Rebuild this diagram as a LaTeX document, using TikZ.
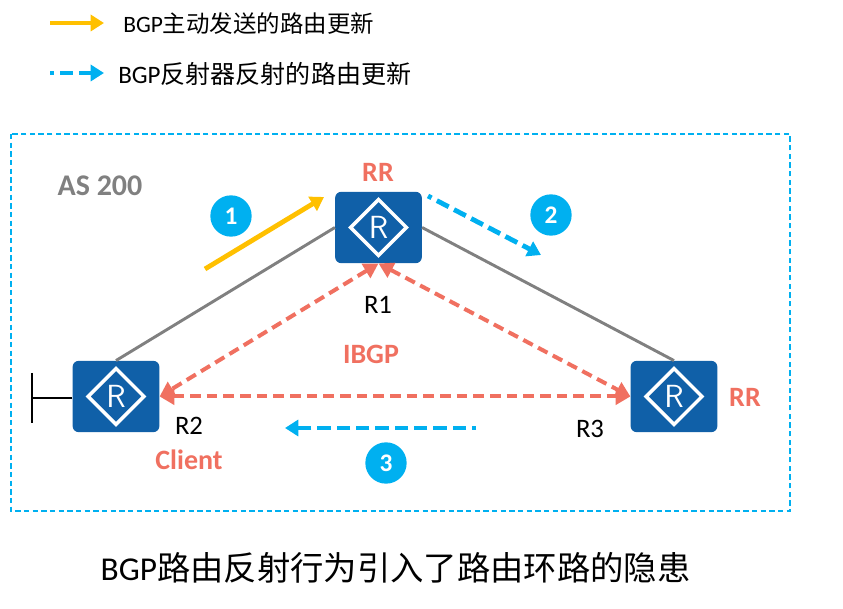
\documentclass[tikz,border=0pt]{standalone}
\usepackage{fontspec}
\setmainfont{Carlito}
\newfontfamily\cjk{Noto Sans CJK SC}
\usetikzlibrary{arrows.meta,shapes.geometric}
\definecolor{coral}{HTML}{F07060}
\definecolor{skyblue}{HTML}{00B0F0}
\definecolor{amber}{HTML}{FFC000}
\definecolor{routerblue}{HTML}{1060A8}
\definecolor{linkgrey}{HTML}{808080}
\tikzset{
  router/.style={draw=none, fill=routerblue, rounded corners=4.5pt, minimum width=65pt, minimum height=53.5pt, inner sep=0pt},
  rmark/.style={diamond, draw=white, line width=2.6pt, minimum width=43pt, minimum height=43pt, inner sep=0pt, text=white, font=\fontsize{24}{24}\sffamily},
  link/.style={draw=linkgrey, line width=2.2pt},
  ibgp/.style={draw=coral, line width=3pt, dash pattern=on 8pt off 4.5pt, {Triangle[length=11pt,width=12pt]}-{Triangle[length=11pt,width=12pt]}},
  update/.style={draw=amber, line width=3.6pt, -{Triangle[length=10pt,width=12pt]}},
  reflect/.style={draw=skyblue, line width=3.6pt, dash pattern=on 10pt off 4.5pt, dash phase=7pt, -{Triangle[length=10pt,width=12pt]}},
  badge/.style={circle, fill=skyblue, text=white, minimum size=31pt, inner sep=0pt, font=\fontsize{19}{19}\bfseries},
  redlabel/.style={text=coral, font=\fontsize{21}{24}\bfseries},
  plainlabel/.style={text=black, font=\fontsize{20}{24}\selectfont},
}
\begin{document}
\begin{tikzpicture}[x=0.75pt, y=-0.75pt]
\useasboundingbox (0,0) rectangle (843,609);
% AS frame
\draw[skyblue, line width=1.1pt, dash pattern=on 4pt off 2.5pt] (11,134) rectangle (790,511);

% routers
\node[router] (r1) at (378.5,227.5) {};
\node[router] (r2) at (116,396.5) {};
\node[router] (r3) at (674,396.5) {};
\foreach \r in {r1,r2,r3}
\node[rmark] (\r m) at (\r) {R};

% stub network on R2
\coordinate (stub) at (32,398);
\coordinate (stubtop) at (32,373);
\coordinate (stubbot) at (32,423);
\draw[black, line width=2.2pt] (r2.west |- stub) -- (stub);
\draw[black, line width=2.2pt] (stubtop) -- (stubbot);

% physical links
\draw[link] (r1.west) -- (r2.north);
\draw[link] (r1.east) -- (r3.north);

% IBGP sessions
\draw[ibgp] (r1.south) -- (r2.east);
\draw[ibgp] (r1.south) -- (r3.west);
\draw[ibgp] (r2.east) -- (r3.west);

% update arrows
\coordinate (a1) at (205,269);
\coordinate (b1) at (324,197);
\coordinate (a2) at (428,196);
\coordinate (b2) at (541,255);
\coordinate (a3) at (476,428);
\coordinate (b3) at (285,428);
\draw[update] (a1) -- (b1);
\draw[reflect] (a2) -- (b2);
\draw[reflect] (a3) -- (b3);

% legend
\coordinate (la1) at (50,23);
\coordinate (lb1) at (104,23);
\coordinate (la2) at (50,73);
\coordinate (lb2) at (104,73);
\draw[update] (la1) -- (lb1);
\draw[reflect] (la2) -- (lb2);
\node[anchor=west, inner sep=0pt, font=\fontsize{17.6}{20}\selectfont] (legend1) at (123,24) {BGP{\cjk 主动发送的路由更新}};
\node[anchor=west, inner sep=0pt, font=\fontsize{18.8}{20}\selectfont] (legend2) at (118,74) {BGP{\cjk 反射器反射的路由更新}};

% badges
\node[badge] (n1) at (231,216) {1};
\node[badge] (n2) at (551,215) {2};
\node[badge] (n3) at (386,463) {3};

% labels
\node[redlabel] (rr1) at (378,172) {RR};
\node[redlabel] (rr3) at (745,397) {RR};
\node[redlabel] (ibgplab) at (371,354) {IBGP};
\node[redlabel] (client) at (189,460) {Client};
\node[redlabel, text=linkgrey, font=\fontsize{22.5}{24}\bfseries] (as) at (100,186) {AS 200};
\node[plainlabel] (r1lab) at (378,305) {R1};
\node[plainlabel] (r2lab) at (189,426) {R2};
\node[plainlabel] (r3lab) at (590,429) {R3};

% title
\node[inner sep=0pt, font=\fontsize{25}{28}\selectfont] (title) at (395.5,568) {BGP{\cjk 路由反射行为引入了路由环路的隐患}};
\end{tikzpicture}
\end{document}
